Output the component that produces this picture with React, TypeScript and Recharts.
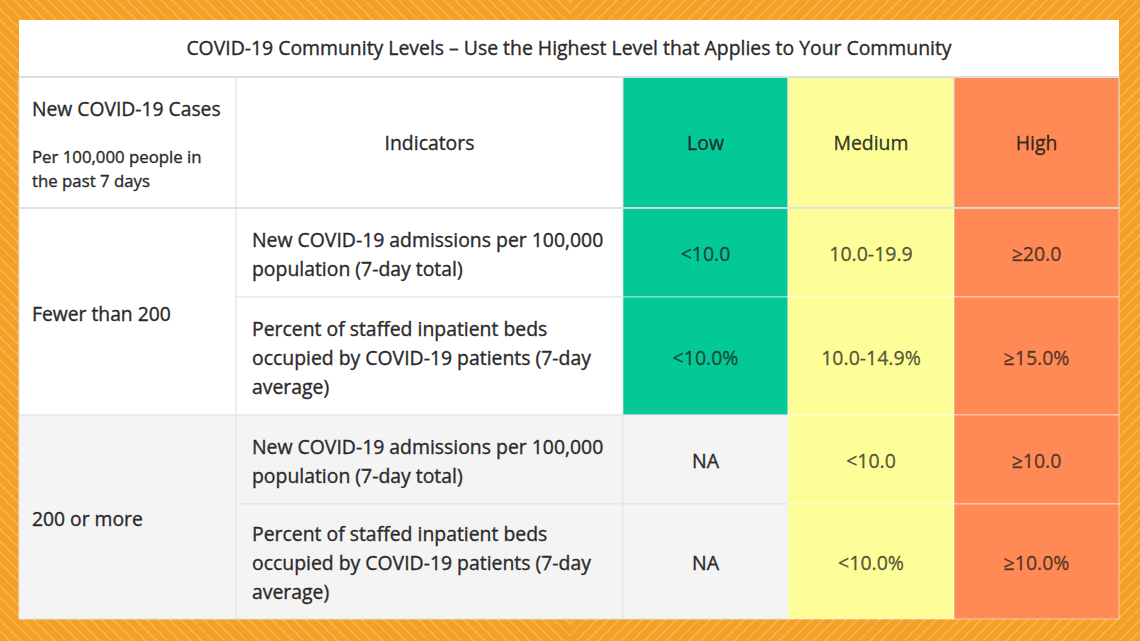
import React from "react";
import { ComposedChart, XAxis, YAxis, ReferenceArea, ReferenceLine } from "recharts";

// ---------- content ----------
const TITLE = "COVID-19 Community Levels \u2013 Use the Highest Level that Applies to Your Community";
const CASE_HEADER = "New COVID-19 Cases";
const CASE_SUB = ["Per 100,000 people in", "the past 7 days"];
const COLUMN_HEADERS = ["Indicators", "Low", "Medium", "High"];
const GROUPS = ["Fewer than 200", "200 or more"];
const INDICATORS = [
  ["New COVID-19 admissions per 100,000", "population (7-day total)"],
  ["Percent of staffed inpatient beds", "occupied by COVID-19 patients (7-day", "average)"],
  ["New COVID-19 admissions per 100,000", "population (7-day total)"],
  ["Percent of staffed inpatient beds", "occupied by COVID-19 patients (7-day", "average)"],
];
const LOW = ["<10.0", "<10.0%", "NA", "NA"];
const MEDIUM = ["10.0-19.9", "10.0-14.9%", "<10.0", "<10.0%"];
const HIGH = ["\u226520.0", "\u226515.0%", "\u226510.0", "\u226510.0%"];

// ---------- layout ----------
const W = 1140;
const H = 641;
const COL_EDGES = [19, 236, 623, 788, 954, 1119];
const ROW_EDGES = [20, 77, 208, 297, 415, 504, 619];
const FONT = "'Open Sans', sans-serif";
const TEXT = "#2A2A2A";
const GREEN = "#02C995";
const YELLOW = "#FEFE98";
const ORANGE = "#FF8A55";
const GRAY = "#F4F4F5";
const LINE = "#E3E3E8";
const HEAVY = 0.35;

type Align = "left" | "center";

function makeLabel(lines: string[], opts: { align?: Align; size?: number; gap?: number; color?: string; opacity?: number; dy?: number; pad?: number; weight?: number }) {
  const { align = "center", size = 19.4, gap = 29, color = TEXT, opacity = 1, dy = 1, pad = 16, weight = 400 } = opts;
  return {
    content: (p: any) => {
      const vb = p.viewBox || {};
      const x = align === "center" ? vb.x + vb.width / 2 : vb.x + pad;
      const cy = vb.y + vb.height / 2 + dy;
      return (
        <g>
          {lines.map((t, i) => (
            <text
              key={i}
              x={x}
              y={cy + (i - (lines.length - 1) / 2) * gap}
              textAnchor={align === "center" ? "middle" : "start"}
              dominantBaseline="central"
              fontFamily={FONT}
              fontSize={size}
              fontWeight={weight}
              fill={color}
              fillOpacity={opacity}
              stroke={color}
              strokeOpacity={opacity}
              strokeWidth={HEAVY}
            >
              {t}
            </text>
          ))}
        </g>
      );
    },
  };
}

function HeaderCaseLabel(p: any) {
  const vb = p.viewBox || {};
  const x = vb.x + 13;
  return (
    <g>
      <text x={x} y={vb.y + 31} dominantBaseline="central" fontFamily={FONT} fontSize={19.3} fill={TEXT} stroke={TEXT} strokeWidth={HEAVY}>
        {CASE_HEADER}
      </text>
      {CASE_SUB.map((t, i) => (
        <text key={i} x={x} y={vb.y + 79 + i * 24} dominantBaseline="central" fontFamily={FONT} fontSize={16.8} fill={TEXT} stroke={TEXT} strokeWidth={HEAVY}>
          {t}
        </text>
      ))}
    </g>
  );
}

export default function App() {
  const levelFills = [GREEN, YELLOW, ORANGE];
  const levelValues = [LOW, MEDIUM, HIGH];
  return (
    <div
      style={{
        position: "absolute",
        left: 0,
        top: 0,
        width: W,
        height: H,
        overflow: "hidden",
        background: "#F4A024",
      }}
    >
      <div
        style={{
          position: "absolute",
          left: 0,
          top: 0,
          width: W / 2,
          height: H,
          background: "repeating-linear-gradient(45deg, #F4A024 0px, #F4A024 6px, #F7B04A 6px, #F7B04A 8px)",
        }}
      />
      <div
        style={{
          position: "absolute",
          left: W / 2,
          top: 0,
          width: W / 2,
          height: H,
          background: "repeating-linear-gradient(-45deg, #F4A024 0px, #F4A024 6px, #F7B04A 6px, #F7B04A 8px)",
        }}
      />
      <div style={{ position: "absolute", left: 0, top: 0 }}>
        <ComposedChart width={W} height={H} data={[{ x: 0, y: 0 }]} margin={{ top: 0, right: 0, bottom: 0, left: 0 }}>
          <XAxis type="number" dataKey="x" domain={[0, W]} hide allowDataOverflow />
          <YAxis type="number" dataKey="y" domain={[0, H]} reversed hide allowDataOverflow />

          {/* title row */}
          <ReferenceArea
            x1={COL_EDGES[0]}
            x2={COL_EDGES[5]}
            y1={ROW_EDGES[0]}
            y2={ROW_EDGES[1]}
            fill="#FFFFFF"
            fillOpacity={1}
            stroke="none"
            label={makeLabel([TITLE], { size: 19.4, dy: -1 })}
          />

          {/* header row */}
          <ReferenceArea
            x1={COL_EDGES[0]}
            x2={COL_EDGES[1]}
            y1={ROW_EDGES[1]}
            y2={ROW_EDGES[2]}
            fill="#FFFFFF"
            fillOpacity={1}
            stroke={LINE}
            label={{ content: (p: any) => <HeaderCaseLabel {...p} /> }}
          />
          {COLUMN_HEADERS.map((h, i) => (
            <ReferenceArea
              key={"h" + i}
              x1={COL_EDGES[i + 1]}
              x2={COL_EDGES[i + 2]}
              y1={ROW_EDGES[1]}
              y2={ROW_EDGES[2]}
              fill={i === 0 ? "#FFFFFF" : levelFills[i - 1]}
              fillOpacity={1}
              stroke={LINE}
              label={makeLabel([h], {
                size: 19.4,
                dy: 0,
                color: i === 0 ? TEXT : "#1A1A1A",
                opacity: i === 0 ? 1 : 0.88,
              })}
            />
          ))}

          {/* group label cells (rowspan 2) */}
          {GROUPS.map((g, gi) => (
            <ReferenceArea
              key={"g" + gi}
              x1={COL_EDGES[0]}
              x2={COL_EDGES[1]}
              y1={ROW_EDGES[2 + gi * 2]}
              y2={ROW_EDGES[4 + gi * 2]}
              fill={gi === 0 ? "#FFFFFF" : GRAY}
              fillOpacity={1}
              stroke={LINE}
              label={makeLabel([g], { align: "left", size: 19.3, pad: 13, dy: 1.5 })}
            />
          ))}

          {/* indicator cells */}
          {INDICATORS.map((lines, r) => (
            <ReferenceArea
              key={"i" + r}
              x1={COL_EDGES[1]}
              x2={COL_EDGES[2]}
              y1={ROW_EDGES[2 + r]}
              y2={ROW_EDGES[3 + r]}
              fill={r < 2 ? "#FFFFFF" : GRAY}
              fillOpacity={1}
              stroke={LINE}
              label={makeLabel(lines, { align: "left", size: 19.4, pad: 16, dy: 1 })}
            />
          ))}

          {/* level value cells */}
          {levelValues.map((vals, c) =>
            vals.map((v, r) => {
              const na = v === "NA";
              return (
                <ReferenceArea
                  key={"v" + c + "-" + r}
                  x1={COL_EDGES[2 + c]}
                  x2={COL_EDGES[3 + c]}
                  y1={ROW_EDGES[2 + r]}
                  y2={ROW_EDGES[3 + r]}
                  fill={na ? GRAY : levelFills[c]}
                  fillOpacity={1}
                  stroke={na ? LINE : "rgba(255,255,255,0.55)"}
                  label={makeLabel([v], { size: 19.5, dy: 1, color: na ? TEXT : "#1A1A1A", opacity: na ? 1 : 0.72 })}
                />
              );
            })
          )}

          {/* heavier separators */}
          <ReferenceLine
            segment={[
              { x: COL_EDGES[0], y: ROW_EDGES[1] },
              { x: COL_EDGES[5], y: ROW_EDGES[1] },
            ]}
            stroke="#DCDCE3"
            strokeWidth={2}
          />
          <ReferenceLine
            segment={[
              { x: COL_EDGES[0], y: ROW_EDGES[2] },
              { x: COL_EDGES[5], y: ROW_EDGES[2] },
            ]}
            stroke="#DCDCE3"
            strokeOpacity={0.8}
            strokeWidth={2}
          />
        </ComposedChart>
      </div>
    </div>
  );
}
